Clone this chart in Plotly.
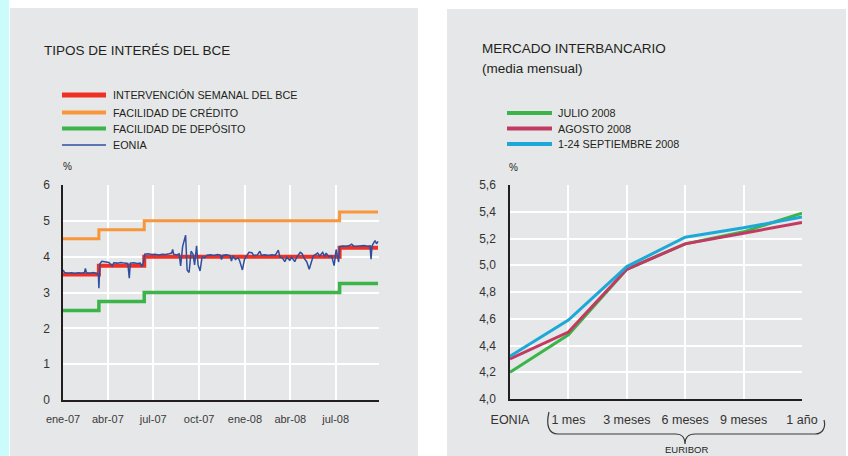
import plotly.graph_objects as go

W, H = 848, 456
FONT = "Liberation Sans, Arial, sans-serif"
INK = "#231f20"
PANEL = "#e6e7e8"

# ---- Tipos de interés del BCE (left panel) ----
policy_dates = ["2007-01-01", "2007-03-14", "2007-06-13", "2008-07-09", "2008-09-24"]
mro_rate = [3.50, 3.75, 4.00, 4.25, 4.25]
credit_rate = [4.50, 4.75, 5.00, 5.25, 5.25]
deposit_rate = [2.50, 2.75, 3.00, 3.25, 3.25]

eonia_dates = [
    "2007-01-01", "2007-01-04", "2007-01-11", "2007-01-18", "2007-01-25", "2007-02-01",
    "2007-02-08", "2007-02-13", "2007-02-15", "2007-02-17", "2007-02-24", "2007-03-03",
    "2007-03-10", "2007-03-13", "2007-03-14", "2007-03-16", "2007-03-20", "2007-03-27",
    "2007-04-03", "2007-04-10", "2007-04-13", "2007-04-20", "2007-04-27", "2007-05-04",
    "2007-05-11", "2007-05-14", "2007-05-16", "2007-05-23", "2007-05-30", "2007-06-05",
    "2007-06-08", "2007-06-11", "2007-06-14", "2007-06-21", "2007-06-28", "2007-07-05",
    "2007-07-12", "2007-07-19", "2007-07-26", "2007-08-02", "2007-08-07", "2007-08-09",
    "2007-08-11", "2007-08-17", "2007-08-22", "2007-08-25", "2007-08-29", "2007-09-04",
    "2007-09-07", "2007-09-11", "2007-09-15", "2007-09-19", "2007-09-22", "2007-09-26",
    "2007-09-29", "2007-10-03", "2007-10-07", "2007-10-12", "2007-10-17", "2007-10-24",
    "2007-10-31", "2007-11-07", "2007-11-13", "2007-11-15", "2007-11-18", "2007-11-25",
    "2007-12-02", "2007-12-05", "2007-12-08", "2007-12-13", "2007-12-18", "2007-12-21",
    "2007-12-27", "2007-12-31", "2008-01-04", "2008-01-09", "2008-01-15", "2008-01-19",
    "2008-01-26", "2008-01-31", "2008-02-03", "2008-02-10", "2008-02-17", "2008-02-24",
    "2008-03-02", "2008-03-08", "2008-03-11", "2008-03-16", "2008-03-21", "2008-03-25",
    "2008-03-31", "2008-04-04", "2008-04-10", "2008-04-14", "2008-04-21", "2008-04-25",
    "2008-04-29", "2008-05-04", "2008-05-09", "2008-05-13", "2008-05-17", "2008-05-26",
    "2008-05-30", "2008-06-05", "2008-06-09", "2008-06-12", "2008-06-17", "2008-06-23",
    "2008-06-28", "2008-07-02", "2008-07-07", "2008-07-09", "2008-07-15", "2008-07-22",
    "2008-07-29", "2008-08-02", "2008-08-06", "2008-08-13", "2008-08-20", "2008-08-27",
    "2008-09-03", "2008-09-08", "2008-09-10", "2008-09-12", "2008-09-15", "2008-09-18",
    "2008-09-21", "2008-09-24",
]
eonia_values = [
    3.63, 3.56, 3.54, 3.55, 3.53, 3.55,
    3.54, 3.56, 3.67, 3.55, 3.54, 3.56,
    3.53, 3.50, 3.12, 3.80, 3.87, 3.85,
    3.84, 3.74, 3.83, 3.82, 3.84, 3.82,
    3.81, 3.40, 3.82, 3.83, 3.81, 3.82,
    3.72, 3.80, 4.07, 4.08, 4.06, 4.07,
    4.05, 4.07, 4.06, 4.08, 4.10, 4.20,
    4.07, 4.05, 4.08, 3.74, 4.28, 4.60,
    3.63, 3.56, 4.15, 4.07, 3.77, 4.30,
    3.77, 3.60, 3.99, 3.97, 4.04, 4.05,
    4.03, 4.06, 4.04, 3.92, 4.04, 4.05,
    4.03, 3.88, 4.03, 3.92, 3.97, 3.90,
    3.63, 3.92, 4.00, 4.12, 4.11, 4.03,
    4.05, 4.15, 4.04, 4.05, 4.03, 4.05,
    4.04, 4.18, 4.00, 3.97, 3.86, 3.98,
    3.90, 3.98, 3.86, 3.99, 4.12, 4.08,
    3.95, 3.86, 3.65, 3.87, 4.02, 4.10,
    4.02, 4.12, 4.01, 4.10, 4.00, 4.02,
    3.75, 4.20, 3.85, 4.28, 4.30, 4.29,
    4.31, 4.35, 4.30, 4.29, 4.30, 4.31,
    4.29, 4.30, 3.93, 4.30, 4.38, 4.45,
    4.36, 4.43,
]

left_tick_dates = ["2007-01-01", "2007-04-01", "2007-07-01", "2007-10-01",
                   "2008-01-01", "2008-04-01", "2008-07-01"]
left_tick_text = ["ene-07", "abr-07", "jul-07", "oct-07", "ene-08", "abr-08", "jul-08"]

# ---- Mercado interbancario (right panel) ----
maturities = ["EONIA", "1 mes", "3 meses", "6 meses", "9 meses", "1 año"]
julio_2008 = [4.20, 4.48, 4.97, 5.16, 5.25, 5.39]
agosto_2008 = [4.30, 4.50, 4.97, 5.16, 5.24, 5.32]
septiembre_2008 = [4.32, 4.59, 4.99, 5.21, 5.28, 5.36]

C_RED, C_ORANGE, C_GREEN, C_NAVY = "#ee3124", "#f7963a", "#3bb44a", "#2f4f9e"
C_JUL, C_AGO, C_SEP = "#3bb44a", "#c23a62", "#1ea8d8"


def px(x):
    return x / W


def py(y):
    return 1 - y / H


fig = go.Figure()

# left panel series
fig.add_trace(go.Scatter(x=policy_dates, y=credit_rate, mode="lines", line_shape="hv",
                         line=dict(color=C_ORANGE, width=3), xaxis="x", yaxis="y"))
fig.add_trace(go.Scatter(x=policy_dates, y=deposit_rate, mode="lines", line_shape="hv",
                         line=dict(color=C_GREEN, width=3.5), xaxis="x", yaxis="y"))
fig.add_trace(go.Scatter(x=policy_dates, y=mro_rate, mode="lines", line_shape="hv",
                         line=dict(color=C_RED, width=4), xaxis="x", yaxis="y"))
fig.add_trace(go.Scatter(x=eonia_dates, y=eonia_values, mode="lines",
                         line=dict(color=C_NAVY, width=1.5), xaxis="x", yaxis="y"))

# right panel series
xi = list(range(len(maturities)))
for vals, col in [(julio_2008, C_JUL), (agosto_2008, C_AGO), (septiembre_2008, C_SEP)]:
    fig.add_trace(go.Scatter(x=xi, y=vals, mode="lines", line=dict(color=col, width=3),
                             xaxis="x2", yaxis="y2"))

tickfont_y = dict(family=FONT, size=12, color="#333333")
axis_common = dict(showline=True, linecolor=INK, linewidth=1.5, zeroline=False,
                   showgrid=True, gridcolor="white", gridwidth=1.5, ticks="",
                   fixedrange=True, automargin=False)

fig.update_layout(
    width=W, height=H,
    margin=dict(l=0, r=0, t=0, b=0, pad=0, autoexpand=False),
    paper_bgcolor="white", plot_bgcolor=PANEL,
    showlegend=False,
    separators=", ",
    xaxis=dict(domain=[px(63), px(379)], anchor="y", type="date",
               range=["2007-01-01", "2008-09-26"],
               tickvals=left_tick_dates, ticktext=left_tick_text,
               tickfont=dict(family=FONT, size=11, color="#3a3a3a"),
               ticklabelstandoff=8, **axis_common),
    yaxis=dict(domain=[py(400), py(185)], anchor="x", range=[0, 6], dtick=1,
               tickfont=tickfont_y, ticklabelstandoff=9, **axis_common),
    xaxis2=dict(domain=[px(510), px(802)], anchor="y2", range=[0, 5],
                tickvals=xi, ticktext=maturities,
                tickfont=dict(family=FONT, size=12.5, color="#333333"),
                ticklabelstandoff=8, **axis_common),
    yaxis2=dict(domain=[py(399), py(185)], anchor="x2", range=[4.0, 5.6], dtick=0.2,
                tickformat=".1f", tickfont=tickfont_y, ticklabelstandoff=10,
                **axis_common),
)

shapes = [
    # side strip and panel backgrounds
    dict(type="rect", xref="paper", yref="paper", x0=px(0), x1=px(9), y0=py(456), y1=py(0),
         fillcolor="#cbfcfc", line_width=0, layer="below"),
    dict(type="rect", xref="paper", yref="paper", x0=px(10), x1=px(418), y0=py(456), y1=py(8),
         fillcolor=PANEL, line_width=0, layer="below"),
    dict(type="rect", xref="paper", yref="paper", x0=px(447), x1=px(846), y0=py(456), y1=py(9),
         fillcolor=PANEL, line_width=0, layer="below"),
]

# legend swatches
left_legend = [("INTERVENCIÓN SEMANAL DEL BCE", C_RED, 5, 95),
               ("FACILIDAD DE CRÉDITO", C_ORANGE, 4, 112.5),
               ("FACILIDAD DE DEPÓSITO", C_GREEN, 4, 128.5),
               ("EONIA", C_NAVY, 1.5, 145)]
right_legend = [("JULIO 2008", C_JUL, 4, 113),
                ("AGOSTO 2008", C_AGO, 4, 128.5),
                ("1-24 SEPTIEMBRE 2008", C_SEP, 4, 144)]

annotations = []


def text(x, y, s, size, xanchor="left", yanchor="middle", color=INK, pad=1):
    annotations.append(dict(x=px(x), y=py(y), xref="paper", yref="paper", text=s,
                            showarrow=False, xanchor=xanchor, yanchor=yanchor,
                            borderpad=pad,
                            font=dict(family=FONT, size=size, color=color)))


for label, col, wdt, yy in left_legend:
    shapes.append(dict(type="line", xref="paper", yref="paper", x0=px(62), x1=px(106),
                       y0=py(yy), y1=py(yy), line=dict(color=col, width=wdt)))
    text(111, yy, label, 10.8)
for label, col, wdt, yy in right_legend:
    shapes.append(dict(type="line", xref="paper", yref="paper", x0=px(507), x1=px(552),
                       y0=py(yy), y1=py(yy), line=dict(color=col, width=wdt)))
    text(556, yy, label, 10.8)

text(42, 50, "TIPOS DE INTERÉS DEL BCE", 13.5)
text(480, 48, "MERCADO INTERBANCARIO", 13.5)
text(480, 68, "(media mensual)", 13.5)
text(61, 166, "%", 10)
text(507, 167, "%", 10)
text(686, 456, "EURIBOR", 9.5, xanchor="center", yanchor="bottom", pad=0)

# brace grouping the Euribor maturities
pts = [(549, 412), (546, 424), (548, 434), (558, 434), (676, 434), (683, 434), (685, 438),
       (685, 444), (685, 438), (688, 434), (695, 434), (815, 434), (823, 434), (826, 427),
       (824, 420)]
P = [(px(a), py(b)) for a, b in pts]
path = (f"M {P[0][0]},{P[0][1]} C {P[1][0]},{P[1][1]} {P[2][0]},{P[2][1]} {P[3][0]},{P[3][1]} "
        f"L {P[4][0]},{P[4][1]} C {P[5][0]},{P[5][1]} {P[6][0]},{P[6][1]} {P[7][0]},{P[7][1]} "
        f"C {P[8][0]},{P[8][1]} {P[9][0]},{P[9][1]} {P[10][0]},{P[10][1]} "
        f"L {P[11][0]},{P[11][1]} C {P[12][0]},{P[12][1]} {P[13][0]},{P[13][1]} {P[14][0]},{P[14][1]}")
shapes.append(dict(type="path", xref="paper", yref="paper", path=path,
                   line=dict(color="#3a3a3a", width=1.2)))

fig.update_layout(shapes=shapes, annotations=annotations)
fig.write_html("out.html")
